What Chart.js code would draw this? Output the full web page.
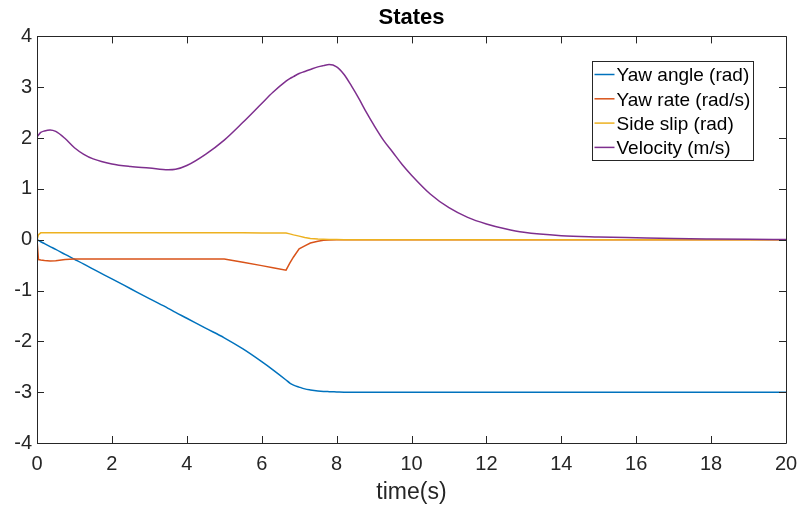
<!DOCTYPE html>
<html>
<head>
<meta charset="utf-8">
<script src="https://cdn.jsdelivr.net/npm/chart.js@4.4.0/dist/chart.umd.min.js"></script>
<style>
  html, body { margin: 0; padding: 0; background: #fff; }
  #wrap { width: 799px; height: 506px; }
</style>
</head>
<body>
<div id="wrap"><canvas id="states"></canvas></div>
<script>
// sample times (s) shared by all four states
const time = [0, 0.04, 0.1, 0.2, 0.35, 0.5, 0.75, 1,
  1.25, 1.5, 2, 2.5, 3, 3.5, 3.7, 4,
  4.5, 5, 5.5, 6, 6.3, 6.65, 6.75, 6.85,
  7, 7.15, 7.3, 7.5, 7.65, 7.8, 8, 8.2,
  8.4, 8.6, 8.8, 9, 9.25, 9.5, 9.75, 10,
  10.5, 11, 11.5, 12, 12.5, 13, 14, 15,
  16, 17, 18, 19, 20];

const yawAngle = [0, -0.015, -0.04, -0.078, -0.135, -0.19, -0.29, -0.385,
  -0.48, -0.58, -0.77, -0.965, -1.16, -1.35, -1.43, -1.545,
  -1.74, -1.93, -2.15, -2.40, -2.56, -2.76, -2.82, -2.86,
  -2.90, -2.935, -2.955, -2.975, -2.985, -2.99, -2.995, -3.0,
  -3.0, -3.0, -3.0, -3.0, -3.0, -3.0, -3.0, -3.0,
  -3.0, -3.0, -3.0, -3.0, -3.0, -3.0, -3.0, -3.0,
  -3.0, -3.0, -3.0, -3.0, -3.0];

const yawRate = [0, -0.39, -0.40, -0.41, -0.42, -0.415, -0.39, -0.38,
  -0.38, -0.38, -0.38, -0.38, -0.38, -0.38, -0.38, -0.38,
  -0.38, -0.38, -0.445, -0.51, -0.55, -0.60, -0.46, -0.34,
  -0.18, -0.12, -0.065, -0.03, -0.012, -0.005, -0.002, 0,
  0, 0, 0, 0, 0, 0, 0, 0,
  0, 0, 0, 0, 0, 0, 0, 0,
  0, 0, 0, 0, 0];

const sideSlip = [0, 0.10, 0.135, 0.135, 0.135, 0.135, 0.135, 0.135,
  0.135, 0.135, 0.135, 0.135, 0.135, 0.135, 0.135, 0.135,
  0.135, 0.135, 0.135, 0.134, 0.133, 0.13, 0.115, 0.095,
  0.07, 0.045, 0.025, 0.012, 0.007, 0.004, 0.002, 0,
  0, 0, 0, 0, 0, 0, 0, 0,
  0, 0, 0, 0, 0, 0, 0, 0,
  0, 0, 0, 0, 0];

const velocity = [2.02, 2.06, 2.11, 2.14, 2.16, 2.13, 1.99, 1.81,
  1.68, 1.59, 1.49, 1.44, 1.41, 1.375, 1.385, 1.46,
  1.68, 1.96, 2.31, 2.68, 2.90, 3.12, 3.17, 3.21,
  3.27, 3.31, 3.35, 3.40, 3.425, 3.445, 3.40, 3.25,
  3.02, 2.77, 2.50, 2.25, 1.96, 1.72, 1.48, 1.27,
  0.90, 0.63, 0.44, 0.31, 0.215, 0.145, 0.08, 0.055,
  0.038, 0.022, 0.013, 0.007, 0.004];

const xTicks = [0, 2, 4, 6, 8, 10, 12, 14, 16, 18, 20];
const yTicks = [-4, -3, -2, -1, 0, 1, 2, 3, 4];

const FONT = '"Liberation Sans", Arial, Helvetica, sans-serif';
const INK = '#262626';

function pts(series) {
  return time.map((t, i) => ({ x: t, y: series[i] }));
}

// MATLAB style box with inward ticks on all four sides
const boxTicks = {
  id: 'boxTicks',
  afterDatasetsDraw(chart) {
    const { ctx, chartArea: a, scales: { x, y } } = chart;
    const tl = 7;
    ctx.save();
    ctx.strokeStyle = INK;
    ctx.lineWidth = 1;
    ctx.beginPath();
    ctx.rect(Math.round(a.left) + 0.5, Math.round(a.top) + 0.5,
      Math.round(a.right - a.left), Math.round(a.bottom - a.top));
    x.ticks.forEach(t => {
      const px = Math.round(x.getPixelForValue(t.value)) + 0.5;
      ctx.moveTo(px, a.bottom); ctx.lineTo(px, a.bottom - tl);
      ctx.moveTo(px, a.top); ctx.lineTo(px, a.top + tl);
    });
    y.ticks.forEach(t => {
      const py = Math.round(y.getPixelForValue(t.value)) + 0.5;
      ctx.moveTo(a.left, py); ctx.lineTo(a.left + tl, py);
      ctx.moveTo(a.right, py); ctx.lineTo(a.right - tl, py);
    });
    ctx.stroke();
    ctx.restore();
  }
};

// legend box inside the plot, upper right
const boxLegend = {
  id: 'boxLegend',
  afterDraw(chart) {
    const { ctx, chartArea: a } = chart;
    const w = 161, h = 99;
    const left = Math.round(a.right - 33 - w) + 0.5;
    const top = Math.round(a.top + 25) + 0.5;
    ctx.save();
    ctx.fillStyle = '#fff';
    ctx.fillRect(left, top, w, h);
    ctx.strokeStyle = INK;
    ctx.lineWidth = 1;
    ctx.strokeRect(left, top, w, h);
    ctx.font = '19px ' + FONT;
    ctx.textBaseline = 'middle';
    ctx.textAlign = 'left';
    chart.data.datasets.forEach((ds, i) => {
      const yy = top + 13 + i * 24.3;
      ctx.strokeStyle = ds.borderColor;
      ctx.lineWidth = 1.5;
      ctx.beginPath();
      ctx.moveTo(left + 2, yy);
      ctx.lineTo(left + 22, yy);
      ctx.stroke();
      ctx.fillStyle = '#000';
      ctx.fillText(ds.label, left + 24, yy + 1.5);
    });
    ctx.restore();
  }
};

new Chart(document.getElementById('states'), {
  type: 'line',
  data: {
    datasets: [
      { label: 'Yaw angle (rad)', data: pts(yawAngle), borderColor: '#0072BD',
        cubicInterpolationMode: 'monotone', order: 3 },
      { label: 'Yaw rate (rad/s)', data: pts(yawRate), borderColor: '#D95319',
        tension: 0, order: 2 },
      { label: 'Side slip (rad)', data: pts(sideSlip), borderColor: '#EDB120',
        tension: 0, order: 1 },
      { label: 'Velocity (m/s)', data: pts(velocity), borderColor: '#7E2F8E',
        cubicInterpolationMode: 'monotone', order: 0 },
    ],
  },
  options: {
    responsive: true,
    maintainAspectRatio: false,
    animation: false,
    datasets: {
      line: { borderWidth: 1.5, pointRadius: 0, fill: false },
    },
    layout: { padding: { top: 0, right: 13, bottom: 0, left: 0 } },
    plugins: {
      legend: { display: false },
      tooltip: { enabled: false },
      title: {
        display: true,
        text: 'States',
        fullSize: false,
        color: '#000',
        font: { family: FONT, size: 22, weight: 'bold' },
        padding: { top: 5, bottom: 5 },
      },
    },
    scales: {
      x: {
        type: 'linear',
        min: 0,
        max: 20,
        afterBuildTicks: s => { s.ticks = xTicks.map(v => ({ value: v })); },
        afterFit: s => { s.height = 63; s.paddingLeft = 0; s.paddingRight = 0; },
        grid: { display: false, drawTicks: false },
        border: { display: false },
        ticks: { color: INK, padding: 9, maxRotation: 0,
          font: { family: FONT, size: 20 } },
        title: { display: true, text: 'time(s)', color: INK, padding: 0,
          font: { family: FONT, size: 23 } },
      },
      y: {
        min: -4,
        max: 4,
        afterBuildTicks: s => { s.ticks = yTicks.map(v => ({ value: v })); },
        afterFit: s => { s.width = 37; s.paddingTop = 0; s.paddingBottom = 0; },
        grid: { display: false, drawTicks: false },
        border: { display: false },
        ticks: { color: INK, padding: 5,
          font: { family: FONT, size: 20 } },
      },
    },
  },
  plugins: [boxTicks, boxLegend],
});
</script>
</body>
</html>
